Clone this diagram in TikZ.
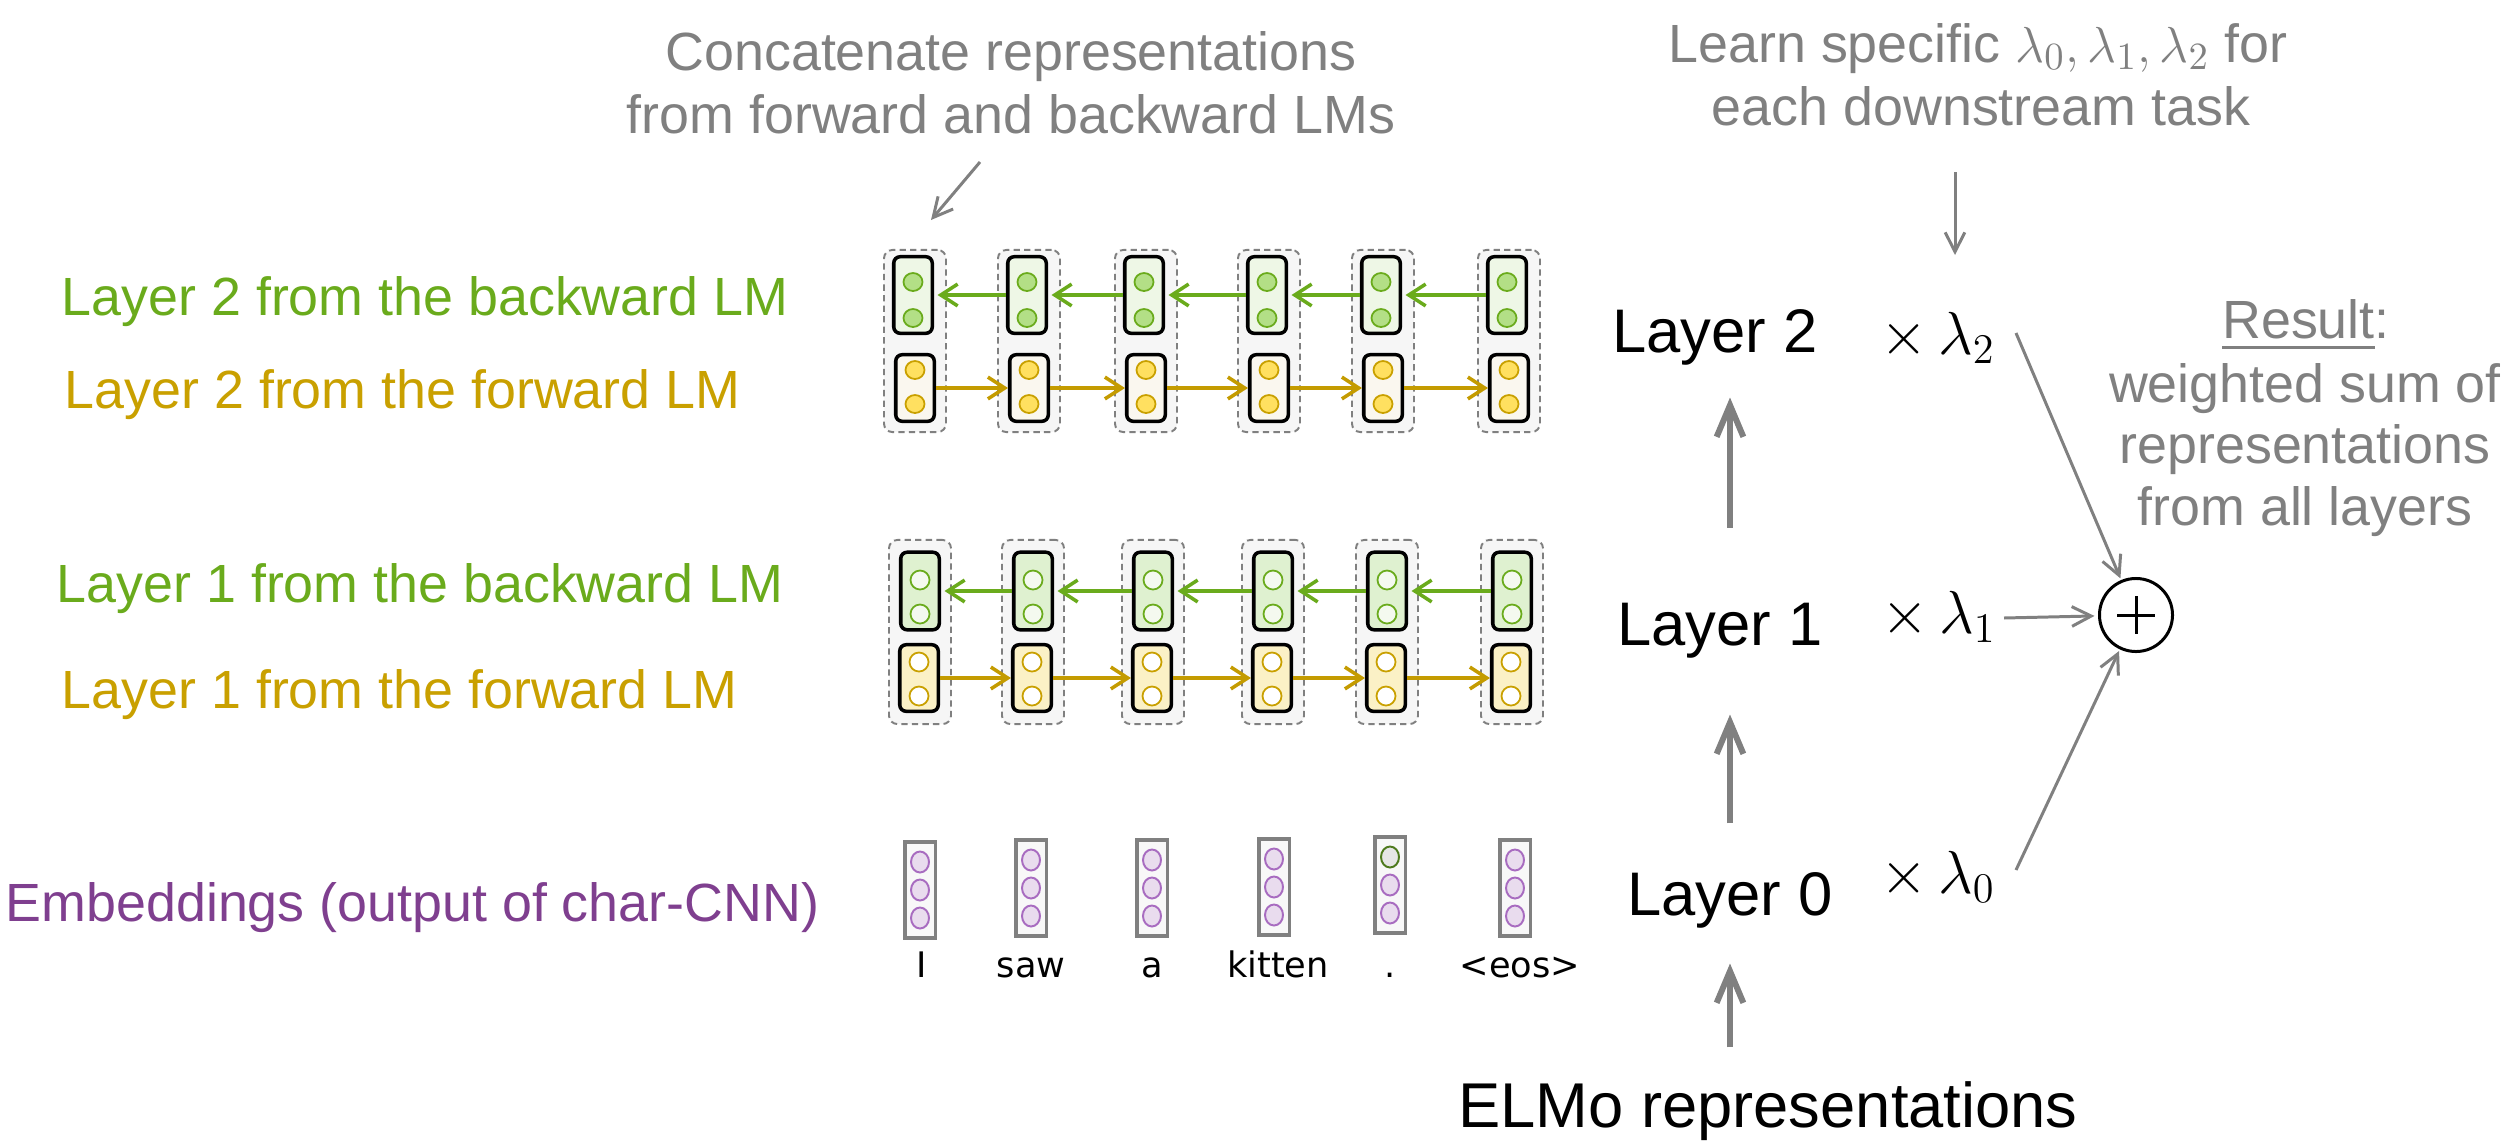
\documentclass[tikz,border=0pt]{standalone}
\usepackage{fontspec}
\setmainfont{Liberation Sans}
\newfontfamily\wordfont{DejaVu Sans}
\usetikzlibrary{arrows.meta,calc}
\definecolor{lmgreen}{HTML}{6AAB1C}
\definecolor{lmgold}{HTML}{C9A000}
\definecolor{lmgoldar}{HTML}{C49B00}
\definecolor{lmpurple}{HTML}{7F3F8F}
\definecolor{lmgray}{HTML}{808080}
\definecolor{dashfill}{HTML}{F6F6F6}
\definecolor{gfillA}{HTML}{EEF7E6}
\definecolor{yfillA}{HTML}{FAF7EF}
\definecolor{gfillB}{HTML}{DFF1D0}
\definecolor{yfillB}{HTML}{FBF1C6}
\definecolor{gdotA}{HTML}{B3DF86}
\definecolor{ydotA}{HTML}{FFE060}
\definecolor{gdotB}{HTML}{F4F9EF}
\definecolor{pdotline}{HTML}{A86CC0}
\definecolor{pdotfill}{HTML}{E9DCEE}
\definecolor{dkgreen}{HTML}{4E7A1E}
\definecolor{dotgray}{HTML}{E6E6E6}
\definecolor{embfill}{HTML}{F8F8F8}
\newcommand\ulgray[1]{\setbox0\hbox{#1}\rlap{\rule[-3pt]{\wd0}{0.8pt}}\box0}
\begin{document}
\begin{tikzpicture}[x=0.01cm,y=-0.01cm,
  lbl/.style={font=\fontsize{15.3}{18}\selectfont, anchor=base west, inner sep=0},
  gtxt/.style={font=\fontsize{15.3}{18}\selectfont, text=lmgray, anchor=base, inner sep=0},
  btxt/.style={font=\fontsize{17.5}{20}\selectfont, anchor=base, inner sep=0},
  dbox/.style={draw=lmgray, dash pattern=on 1.8pt off 1.2pt, line width=0.55pt, fill=dashfill, rounded corners=2.4pt, minimum width=0.62cm, inner sep=0},
  ibox/.style={draw=black, line width=1pt, rounded corners=1.8pt, minimum width=0.385cm, inner sep=0},
  ebox/.style={draw=lmgray, line width=1pt, fill=embfill, minimum width=0.305cm, minimum height=0.955cm, inner sep=0},
  dot/.style={line width=0.5pt},
  barrow/.style={line width=1pt, -{Straight Barb[length=4.8pt,width=6.2pt]}},
  thinarrow/.style={draw=lmgray, line width=0.85pt, -{Straight Barb[length=5.5pt,width=5.6pt]}},
  bigup/.style={draw=lmgray, line width=1.7pt, -{Straight Barb[length=9pt,width=7.6pt]}},
  word/.style={font=\wordfont\fontsize{10}{12}\selectfont, anchor=base, inner sep=0},
]
\useasboundingbox (0,0) rectangle (2508,1148);

% ---------- left labels ----------
\node[lbl, text=lmgreen] (b2) at (61,315) {Layer 2 from the backward LM};
\node[lbl, text=lmgold] (f2) at (64,408) {Layer 2 from the forward LM};
\node[lbl, text=lmgreen] (b1) at (56,602) {Layer 1 from the backward LM};
\node[lbl, text=lmgold] (f1) at (61,708) {Layer 1 from the forward LM};
\node[lbl, text=lmpurple] (emb) at (5,921) {Embeddings (output of char-CNN)};

% ---------- top block (layer 2) ----------
\foreach \i/\x in {1/915,2/1029,3/1146,4/1269,5/1383,6/1509}{
  \node[dbox, minimum height=1.82cm] (td\i) at (\x,341) {};
  \node[ibox, fill=gfillA, minimum height=0.765cm] (tg\i) at (\x-2,295) {};
  \node[ibox, fill=yfillA, minimum height=0.665cm] (ty\i) at (\x,388) {};
  \filldraw[fill=gdotA, draw=lmgreen, dot] (\x-2,282) ellipse [x radius=9.5, y radius=9];
  \filldraw[fill=gdotA, draw=lmgreen, dot] (\x-2,318) ellipse [x radius=9.5, y radius=9];
  \filldraw[fill=ydotA, draw=lmgold, dot] (\x,370) ellipse [x radius=9.5, y radius=9];
  \filldraw[fill=ydotA, draw=lmgold, dot] (\x,404) ellipse [x radius=9.5, y radius=9];
}
\foreach \i/\j in {1/2,2/3,3/4,4/5,5/6}{
  \draw[barrow, lmgoldar] (ty\i.east) -- (ty\j.west);
  \draw[barrow, lmgreen, shorten >=1pt] (tg\j.west) -- (tg\i.east);
}

% ---------- middle block (layer 1) ----------
\foreach \i/\x in {1/920,2/1033,3/1153,4/1273,5/1387,6/1512}{
  \node[dbox, minimum height=1.84cm] (md\i) at (\x,632) {};
  \node[ibox, fill=gfillB, minimum height=0.775cm] (mg\i) at (\x,591) {};
  \node[ibox, fill=yfillB, minimum height=0.665cm] (my\i) at (\x-1,678) {};
  \filldraw[fill=gdotB, draw=lmgreen, dot] (\x,580) ellipse [x radius=9.5, y radius=9.5];
  \filldraw[fill=gdotB, draw=lmgreen, dot] (\x,614) ellipse [x radius=9.5, y radius=9.5];
  \filldraw[fill=white, draw=lmgold, dot] (\x-1,662) ellipse [x radius=9.5, y radius=9.5];
  \filldraw[fill=white, draw=lmgold, dot] (\x-1,696) ellipse [x radius=9.5, y radius=9.5];
}
\foreach \i/\j in {1/2,2/3,3/4,4/5,5/6}{
  \draw[barrow, lmgoldar] (my\i.east) -- (my\j.west);
  \draw[barrow, lmgreen, shorten >=1pt] (mg\j.west) -- (mg\i.east);
}

% ---------- embeddings (layer 0) ----------
\foreach \i/\x/\y in {1/920/890,2/1031/888,3/1152/888,4/1274/887,5/1390/885,6/1515/888}{
  \node[ebox] (e\i) at (\x,\y) {};
  \filldraw[fill=pdotfill, draw=pdotline, line width=0.55pt] (\x,\y) ellipse [x radius=9, y radius=10.5];
  \filldraw[fill=pdotfill, draw=pdotline, line width=0.55pt] (\x,\y+28) ellipse [x radius=9, y radius=10.5];
}
\foreach \i/\x/\y in {1/920/890,2/1031/888,3/1152/888,4/1274/887,6/1515/888}{
  \filldraw[fill=pdotfill, draw=pdotline, line width=0.55pt] (\x,\y-28) ellipse [x radius=9, y radius=10.5];
}
\filldraw[fill=dotgray, draw=dkgreen, line width=0.55pt] (1390,857) ellipse [x radius=9, y radius=10.5];

\node[word] (w1) at (922,977) {I};
\node[word] (w2) at (1031,977) {saw};
\node[word] (w3) at (1152,977) {a};
\node[word] (w4) at (1278,977) {kitten};
\node[word] (w5) at (1390,977) {.};
\node[word] (w6) at (1520,977) {<eos>};

% ---------- annotations ----------
\node[gtxt] (cc1) at (1011,70) {Concatenate representations};
\node[gtxt] (cc2) at (1011,133) {from forward and backward LMs};
\coordinate (ccA) at (980,162);
\coordinate (ccB) at (931,220);
\draw[thinarrow] (ccA) -- (ccB);

\node[gtxt] (ls1) at (1978,62) {Learn specific $\lambda_0, \lambda_1, \lambda_2$ for};
\node[gtxt] (ls2) at (1981,125) {each downstream task};
\coordinate (lsA) at (1955,172);
\coordinate (lsB) at (1955,255);
\draw[thinarrow] (lsA) -- (lsB);

\node[gtxt] (r0) at (2306,338) {\ulgray{Result}:};
\node[gtxt] (r1) at (2305,402) {weighted sum of};
\node[gtxt] (r2) at (2305,463) {representations};
\node[gtxt] (r3) at (2305,525) {from all layers};

% ---------- right column ----------
\node[btxt] (L2) at (1715,352) {Layer 2};
\node[btxt] (L1) at (1720,645) {Layer 1};
\node[btxt] (L0) at (1730,915) {Layer 0};
\node[btxt, font=\fontsize{18}{20}\selectfont] (elmo) at (1768,1127) {ELMo representations};

\node[btxt, anchor=base west] (lam2) at (1880,354) {$\times\,\lambda_2$};
\node[btxt, anchor=base west] (lam1) at (1881,633) {$\times\,\lambda_1$};
\node[btxt, anchor=base west] (lam0) at (1880,893) {$\times\,\lambda_0$};

\coordinate (axis) at (1730,0);
\draw[bigup, shorten <=0.74cm, shorten >=0.32cm] (L1.north -| axis) -- (L2.south -| axis);
\draw[bigup, shorten <=0.48cm, shorten >=0.56cm] (L0.north -| axis) -- (L1.south -| axis);
\draw[bigup, shorten <=0.33cm, shorten >=0.35cm] (elmo.north -| axis) -- (L0.south -| axis);

\node[circle, draw, line width=0.85pt, minimum size=0.73cm, inner sep=0] (plus) at (2136,615) {};
\draw[line width=0.85pt] ($(plus.center)+(-19,0)$) -- ($(plus.center)+(19,0)$);
\draw[line width=0.85pt] ($(plus.center)+(0,-19)$) -- ($(plus.center)+(0,19)$);

\coordinate (s2) at (2016,333);
\coordinate (s1) at (2004,618);
\coordinate (s0) at (2016,870);
\draw[thinarrow, shorten >=0.5pt] (s2) -- (plus);
\draw[thinarrow, shorten >=1pt] (s1) -- (plus);
\draw[thinarrow, shorten >=0.5pt] (s0) -- (plus);
\end{tikzpicture}
\end{document}
